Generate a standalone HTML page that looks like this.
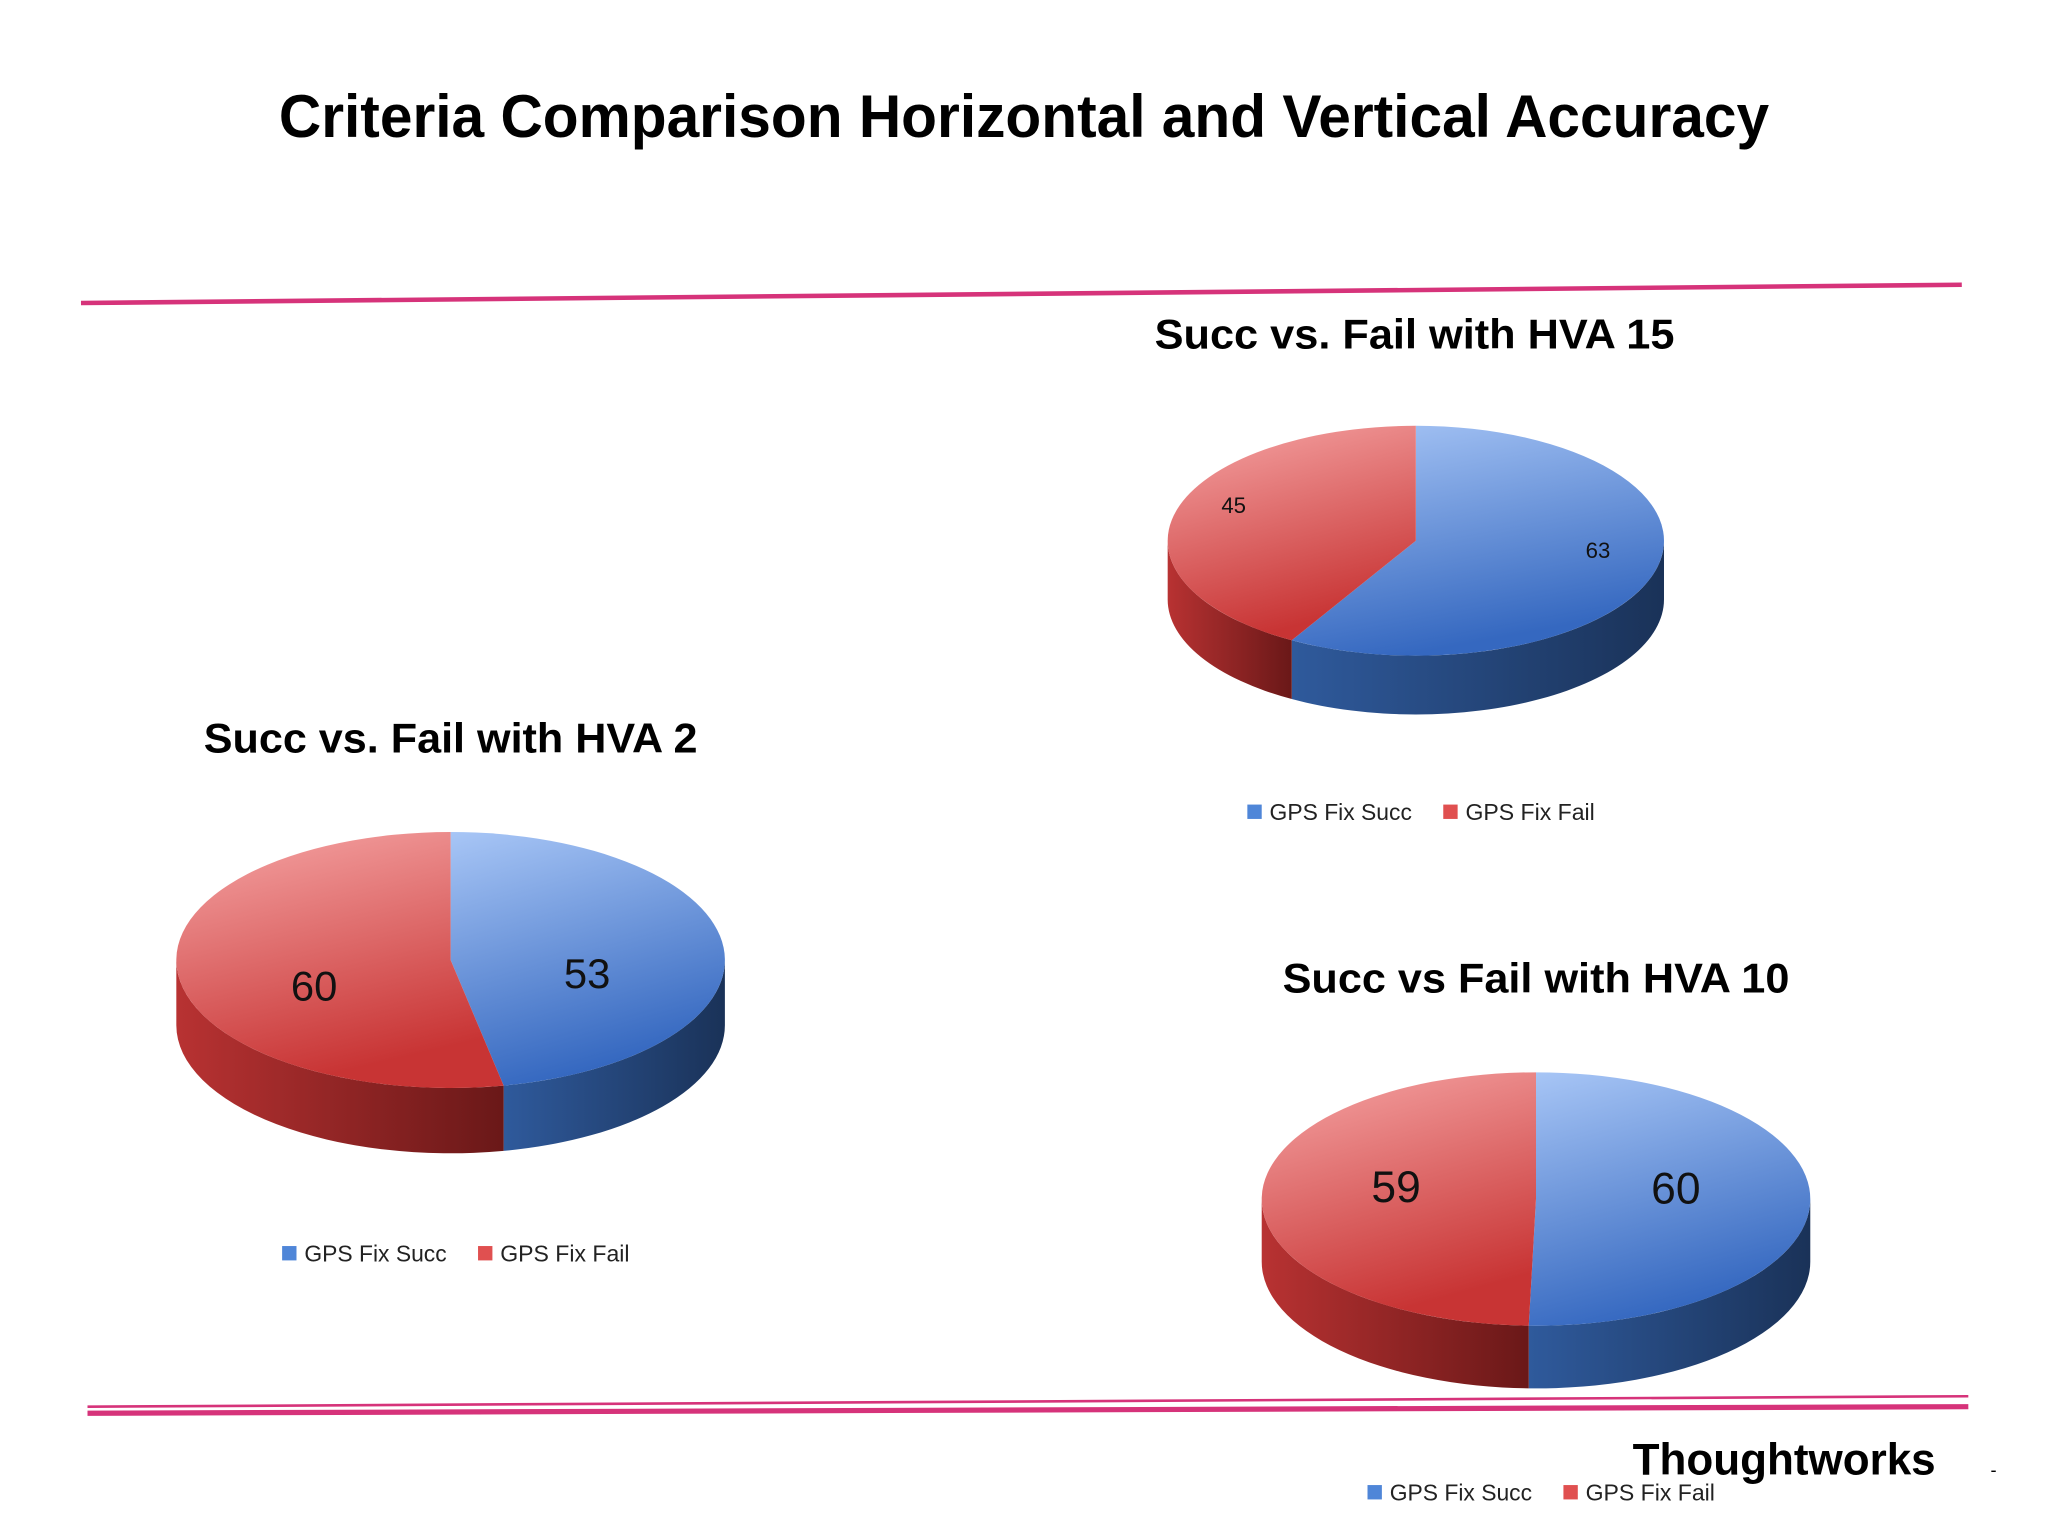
<!DOCTYPE html>
<html><head><meta charset="utf-8"><style>
html,body{margin:0;padding:0;background:#fff}
svg{display:block}
text{font-family:"Liberation Sans",sans-serif}
</style></head><body>
<svg id="s" width="2048" height="1536" viewBox="0 0 1568 1176" xmlns="http://www.w3.org/2000/svg">
<defs>
<linearGradient id="bt" x1="0" y1="0" x2="0.3" y2="1"><stop offset="0" stop-color="#a8c6f6"/><stop offset="1" stop-color="#3568c0"/></linearGradient>
<linearGradient id="rt" x1="0" y1="0" x2="0.3" y2="1"><stop offset="0" stop-color="#f6a6a6"/><stop offset="1" stop-color="#c83434"/></linearGradient>
<linearGradient id="bs" x1="0" y1="0" x2="1" y2="0"><stop offset="0" stop-color="#2f5a9c"/><stop offset="1" stop-color="#1a3258"/></linearGradient>
<linearGradient id="rs" x1="0" y1="0" x2="1" y2="0"><stop offset="0" stop-color="#b83232"/><stop offset="1" stop-color="#6a1818"/></linearGradient>
</defs>
<text x="784" y="105" text-anchor="middle" font-size="46" font-weight="bold" textLength="1141" lengthAdjust="spacingAndGlyphs">Criteria Comparison Horizontal and Vertical Accuracy</text>
<path d="M62 232 L1502 218" stroke="#d6337a" stroke-width="3.5" fill="none"/>
<path d="M67 1082 L1507 1077" stroke="#d6337a" stroke-width="4" fill="none"/>
<path d="M67 1077 L1507 1069" stroke="#d6337a" stroke-width="2" fill="none"/>
<text x="1083" y="267" text-anchor="middle" font-size="32" font-weight="bold" textLength="398" lengthAdjust="spacingAndGlyphs">Succ vs. Fail with HVA 15</text>
<text x="345" y="576" text-anchor="middle" font-size="32" font-weight="bold" textLength="378" lengthAdjust="spacingAndGlyphs">Succ vs. Fail with HVA 2</text>
<text x="1176" y="760" text-anchor="middle" font-size="32" font-weight="bold" textLength="388" lengthAdjust="spacingAndGlyphs">Succ vs Fail with HVA 10</text>
<text x="1366" y="1129" text-anchor="middle" font-size="34" font-weight="bold" textLength="232" lengthAdjust="spacingAndGlyphs">Thoughtworks</text>
<text x="1524" y="1130" font-size="14">-</text>
<g id="charts"></g>
</svg>
<script>
const categories = ["GPS Fix Succ", "GPS Fix Fail"];
const hva15Values = [63, 45];
const hva2Values = [53, 60];
const hva10Values = [60, 59];
const charts = [
  {id:"hva15", vals:hva15Values, cx:1084, cy:414, rx:190, ry:88, d:45, fs:17, lr:0.76, dy:-10, lx:955, ly:628},
  {id:"hva2", vals:hva2Values, cx:345, cy:735, rx:210, ry:98, d:50, fs:32, lr:0.5, dy:15, lx:216, ly:966},
  {id:"hva10", vals:hva10Values, cx:1176, cy:918, rx:210, ry:97, d:48, fs:34, lr:0.51, dy:-9, lx:1047, ly:1149}
];
const NS="http://www.w3.org/2000/svg";
const root=document.getElementById("charts");
function mk(tag,attrs,parent){const e=document.createElementNS(NS,tag);for(const k in attrs)e.setAttribute(k,attrs[k]);parent.appendChild(e);return e;}
const tops=["url(#bt)","url(#rt)"], sides=["url(#bs)","url(#rs)"];
charts.forEach(c=>{
  const g=mk("g",{},root);
  
  
  const total=c.vals.reduce((a,b)=>a+b,0);
  const P=(a,dy)=>[c.cx+c.rx*Math.sin(a*Math.PI/180), c.cy-c.ry*Math.cos(a*Math.PI/180)+(dy||0)];
  let start=0; const sl=[];
  c.vals.forEach((v,i)=>{const end=start+v/total*360;sl.push([start,end,i]);start=end;});
  sl.forEach(([a,b,i])=>{
    const s=Math.max(a,90), e=Math.min(b,270);
    if(e<=s) return;
    const p1=P(s),p2=P(e),p3=P(e,c.d),p4=P(s,c.d);
    const d=`M${p1} A${c.rx} ${c.ry} 0 0 1 ${p2} L${p3} A${c.rx} ${c.ry} 0 0 0 ${p4} Z`;
    const w=mk("path",{d:d,fill:sides[i]},g);
    
    
  });
  sl.forEach(([a,b,i])=>{
    const p1=P(a),p2=P(b);const large=(b-a)>180?1:0;
    const t=mk("path",{d:`M${c.cx} ${c.cy} L${p1} A${c.rx} ${c.ry} 0 ${large} 1 ${p2} Z`,fill:tops[i]},g);
    
    
    const m=(a+b)/2;
    const lp=[c.cx+c.rx*c.lr*Math.sin(m*Math.PI/180), c.cy-c.ry*c.lr*Math.cos(m*Math.PI/180)+c.dy];
    const l=mk("text",{x:lp[0],y:lp[1]+c.fs*0.35,"text-anchor":"middle","font-size":c.fs,fill:"#111"},g);
    l.textContent=c.vals[i];
    
    
  });
  categories.forEach((cat,i)=>{
    const x=c.lx+i*150;
    const sw=mk("rect",{x:x,y:c.ly-12,width:11,height:11,fill:i?"#e05050":"#4f86d8"},g);
    
    
    const t=mk("text",{x:x+17,y:c.ly,"font-size":18,fill:"#222",textLength:i?99:109,lengthAdjust:"spacingAndGlyphs"},g);
    t.textContent=cat;
    
    
  });
});
</script>
</body></html>
